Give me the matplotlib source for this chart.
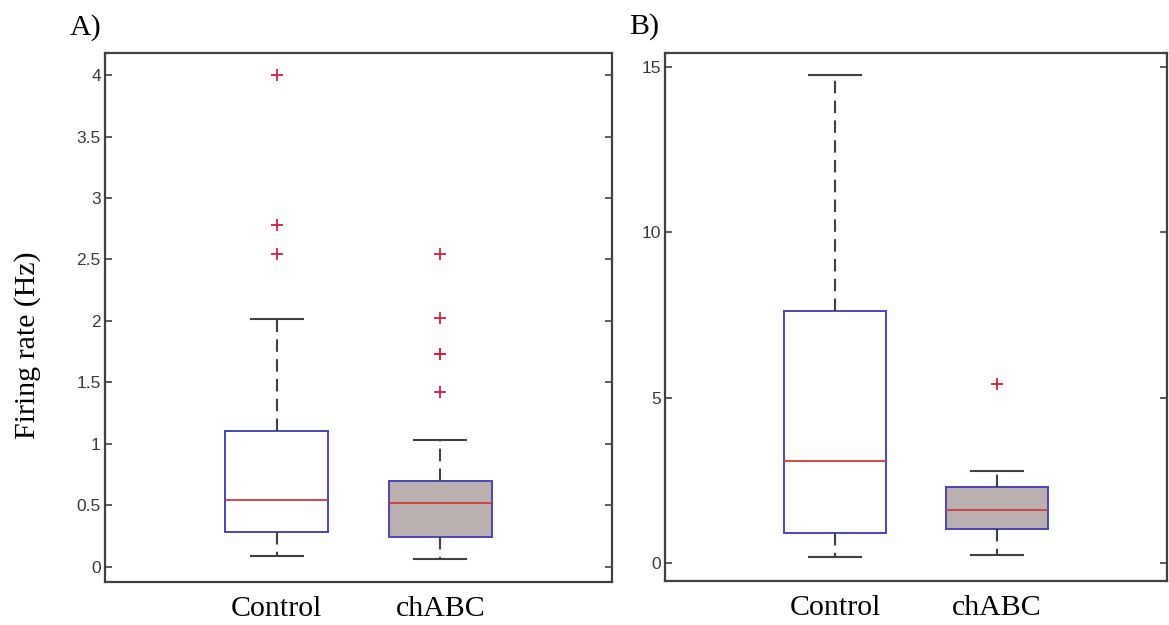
import matplotlib
matplotlib.use("Agg")
import matplotlib.pyplot as plt

# group names
groups = ["Control", "chABC"]

# A) firing rate summary per group (Hz)
a_whislo = [0.087, 0.065]
a_q1 = [0.28, 0.239]
a_med = [0.542, 0.52]
a_q3 = [1.10, 0.694]
a_whishi = [2.014, 1.03]
a_fliers = [[2.54, 2.78, 4.0], [1.42, 1.73, 1.73, 2.02, 2.54]]

# B) summary per group
b_whislo = [0.19, 0.24]
b_q1 = [0.90, 1.02]
b_med = [3.08, 1.60]
b_q3 = [7.63, 2.31]
b_whishi = [14.75, 2.79]
b_fliers = [[], [5.41]]

a_ticks = [0, 0.5, 1, 1.5, 2, 2.5, 3, 3.5, 4]
a_ticklabels = ["0", "0.5", "1", "1.5", "2", "2.5", "3", "3.5", "4"]
b_ticks = [0, 5, 10, 15]
b_ticklabels = ["0", "5", "10", "15"]

serif = ["Liberation Serif", "DejaVu Serif"]
sans = ["Liberation Sans", "DejaVu Sans"]
axis_grey = "#404040"


def make_stats(whislo, q1, med, q3, whishi, fliers):
    stats = []
    for i in range(len(groups)):
        stats.append({"whislo": whislo[i], "q1": q1[i], "med": med[i],
                      "q3": q3[i], "whishi": whishi[i], "fliers": fliers[i],
                      "label": groups[i]})
    return stats


def draw_panel(ax, stats, ylim, ticks, ticklabels):
    lw = 1.5
    bp = ax.bxp(stats, positions=[1, 2], widths=0.63, capwidths=0.32,
                patch_artist=True, manage_ticks=False,
                boxprops=dict(edgecolor="#4a46b8", linewidth=1.4),
                medianprops=dict(color="#d03a3a", linewidth=1.3),
                whiskerprops=dict(color=axis_grey, linewidth=lw,
                                  linestyle=(0, (6, 3.5))),
                capprops=dict(color=axis_grey, linewidth=lw),
                flierprops=dict(marker="+", markeredgecolor="#d02040",
                                markersize=9, markeredgewidth=1.3,
                                linestyle="none"))
    bp["boxes"][0].set_facecolor("white")
    bp["boxes"][1].set_facecolor("#bab0b0")

    ax.set_xlim(-0.05, 3.05)
    ax.set_ylim(*ylim)
    ax.set_xticks([1, 2])
    ax.set_xticklabels(groups, family=serif, fontsize=21.5, color="black")
    ax.tick_params(axis="x", length=0, pad=10)
    ax.set_yticks(ticks)
    ax.set_yticklabels(ticklabels, family=sans, fontsize=12.5, color="#3a3a3a")
    ax.tick_params(axis="y", direction="in", length=5, width=1.2,
                   color=axis_grey, left=True, right=True, pad=3)
    for s in ax.spines.values():
        s.set_color(axis_grey)
        s.set_linewidth(1.6)


fig = plt.figure(figsize=(11.69, 6.25), dpi=100)
ax1 = fig.add_axes([105 / 1169, 43 / 625, 507 / 1169, 529 / 625])
ax2 = fig.add_axes([665 / 1169, 44 / 625, 502 / 1169, 528 / 625])

draw_panel(ax1, make_stats(a_whislo, a_q1, a_med, a_q3, a_whishi, a_fliers),
           (-0.126, 4.18), a_ticks, a_ticklabels)
draw_panel(ax2, make_stats(b_whislo, b_q1, b_med, b_q3, b_whishi, b_fliers),
           (-0.54, 15.42), b_ticks, b_ticklabels)

fig.text(28 / 1169, 1 - 345 / 625, "Firing rate (Hz)", rotation=90,
         ha="center", va="center", family=serif, fontsize=21.5)
fig.text(70 / 1169, 1 - 35 / 625, "A)", ha="left", va="baseline",
         family=serif, fontsize=21.5)
fig.text(629 / 1169, 1 - 34 / 625, "B)", ha="left", va="baseline",
         family=serif, fontsize=21.5)

fig.savefig("out.png", dpi=100)
